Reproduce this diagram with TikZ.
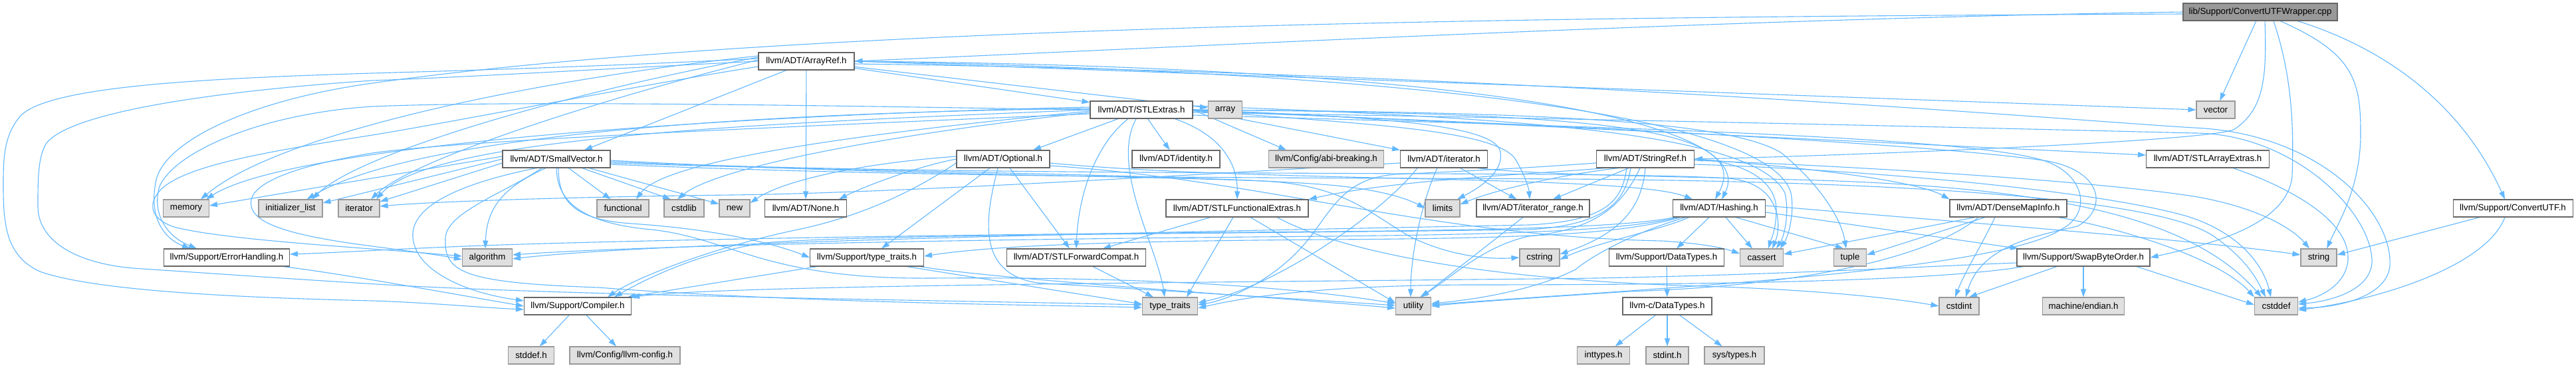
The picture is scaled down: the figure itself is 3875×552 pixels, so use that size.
\documentclass[tikz,border=0pt]{standalone}
\usepackage{fontspec}
\newfontfamily\dfont{Liberation Sans}
\usetikzlibrary{arrows.meta}
\definecolor{edgec}{HTML}{63B8FF}
\definecolor{bdark}{HTML}{666666}
\definecolor{blight}{HTML}{999999}
\definecolor{fext}{HTML}{E0E0E0}
\definecolor{froot}{HTML}{999999}
\pgfdeclarelayer{bg}
\pgfsetlayers{bg,main}
\tikzset{
  box/.style={draw=bdark, fill=white, line width=1.1pt, inner sep=0pt, minimum height=26pt, font=\dfont\fontsize{13.3}{15}\selectfont, text=black},
  ext/.style={box, draw=blight, fill=fext},
  root/.style={box, draw=bdark, fill=froot},
  e/.style={draw=edgec, line width=1.1pt, -{Triangle[length=12pt,width=8pt]}},
}
\begin{document}
\begin{tikzpicture}[x=1pt,y=-1pt]
\useasboundingbox (0,0) rectangle (3875,552);
% nodes
\node[root, minimum width=232pt] (cpp) at (3400,18) {lib/Support/ConvertUTFWrapper.cpp};
\node[box, minimum width=144pt] (arrayref) at (1213,92) {llvm/ADT/ArrayRef.h};
\node[box, minimum width=154pt] (stlextras) at (1717,165) {llvm/ADT/STLExtras.h};
\node[ext, minimum width=51pt] (array) at (1843,165) {array};
\node[ext, minimum width=58pt] (vector) at (3333,165) {vector};
\node[box, minimum width=162pt] (smallvec) at (837,239) {llvm/ADT/SmallVector.h};
\node[box, minimum width=140pt] (optional) at (1509,239) {llvm/ADT/Optional.h};
\node[box, minimum width=132pt] (identity) at (1769,239) {llvm/ADT/identity.h};
\node[ext, minimum width=173pt] (abi) at (1995,239) {llvm/Config/abi-breaking.h};
\node[box, minimum width=131pt] (iterh) at (2172,239) {llvm/ADT/iterator.h};
\node[box, minimum width=147pt] (stringref) at (2475,239) {llvm/ADT/StringRef.h};
\node[box, minimum width=185pt] (stlarr) at (3321,239) {llvm/ADT/STLArrayExtras.h};
\node[ext, minimum width=69pt] (memory) at (280,313) {memory};
\node[ext, minimum width=96pt] (initlist) at (437,313) {initializer\_list};
\node[ext, minimum width=62pt] (iterator) at (540,313) {iterator};
\node[ext, minimum width=78pt] (functional) at (937,313) {functional};
\node[ext, minimum width=60pt] (cstdlib) at (1029,313) {cstdlib};
\node[ext, minimum width=46pt] (new) at (1105,313) {new};
\node[box, minimum width=123pt] (none) at (1212,313) {llvm/ADT/None.h};
\node[box, minimum width=214pt] (stlfunc) at (1861,313) {llvm/ADT/STLFunctionalExtras.h};
\node[ext, minimum width=52pt] (limits) at (2170,313) {limits};
\node[box, minimum width=170pt] (iterrange) at (2306,313) {llvm/ADT/iterator\_range.h};
\node[box, minimum width=139pt] (hashing) at (2586,313) {llvm/ADT/Hashing.h};
\node[box, minimum width=176pt] (densemap) at (3021,313) {llvm/ADT/DenseMapInfo.h};
\node[box, minimum width=180pt] (cutf) at (3780,313) {llvm/Support/ConvertUTF.h};
\node[box, minimum width=189pt] (errh) at (341,387) {llvm/Support/ErrorHandling.h};
\node[ext, minimum width=75pt] (algorithm) at (733,387) {algorithm};
\node[box, minimum width=171pt] (typetraitsh) at (1304,387) {llvm/Support/type\_traits.h};
\node[box, minimum width=209pt] (stlfwd) at (1619,387) {llvm/ADT/STLForwardCompat.h};
\node[ext, minimum width=60pt] (cstring) at (2316,387) {cstring};
\node[box, minimum width=173pt] (datatypes) at (2507,387) {llvm/Support/DataTypes.h};
\node[ext, minimum width=65pt] (cassert) at (2650,387) {cassert};
\node[ext, minimum width=49pt] (tuple) at (2783,387) {tuple};
\node[box, minimum width=200pt] (swap) at (3134,387) {llvm/Support/SwapByteOrder.h};
\node[ext, minimum width=54pt] (string) at (3488,387) {string};
\node[box, minimum width=161pt] (compiler) at (869,460) {llvm/Support/Compiler.h};
\node[ext, minimum width=83pt] (stdtt) at (1760,460) {type\_traits};
\node[ext, minimum width=53pt] (utility) at (2126,460) {utility};
\node[box, minimum width=134pt] (cdatatypes) at (2508,460) {llvm-c/DataTypes.h};
\node[ext, minimum width=60pt] (cstdint) at (2947,460) {cstdint};
\node[ext, minimum width=123pt] (endian) at (3134,460) {machine/endian.h};
\node[ext, minimum width=65pt] (cstddef) at (3424,460) {cstddef};
\node[ext, minimum width=69pt] (stddef) at (799,534) {stddef.h};
\node[ext, minimum width=166pt] (llvmconfig) at (940,534) {llvm/Config/llvm-config.h};
\node[ext, minimum width=79pt] (inttypes) at (2412,534) {inttypes.h};
\node[ext, minimum width=64pt] (stdint) at (2508,534) {stdint.h};
\node[ext, minimum width=90pt] (systypes) at (2609,534) {sys/types.h};

\begin{pgfonlayer}{bg}
\fill[white] (0,0) rectangle (3875,552);
% cpp
\draw[e] (cpp.west) .. controls (2600,28) and (1800,70) .. (arrayref.east);
\draw[e] ([yshift=-3pt]cpp.west) .. controls (2400,25) and (1200,35) .. (560,125) .. controls (380,150) and (250,210) .. (235,270) .. controls (222,330) and (250,360) .. ([xshift=-55pt]errh.north);
\draw[e] (cpp) -- (vector);
\draw[e] ([xshift=7pt]cpp.south) .. controls (3410,120) and (3405,165) .. (3360,195) .. controls (3300,215) and (2700,236) .. (stringref.east);
\draw[e] ([xshift=20pt]cpp.south) .. controls (3450,120) and (3450,200) .. (3448,265) .. controls (3440,340) and (3320,368) .. (swap.east);
\draw[e] ([xshift=30pt]cpp.south) .. controls (3540,80) and (3551,120) .. (3551,200) .. controls (3551,280) and (3520,330) .. ([xshift=12pt]string.north);
\draw[e] ([xshift=56pt]cpp.south) .. controls (3580,70) and (3700,150) .. ([xshift=-12pt]cutf.north);
% arrayref
\draw[e] (arrayref.east) .. controls (2200,100) and (2650,180) .. ([xshift=4pt]hashing.north);
\draw[e] (arrayref) -- (none);
\draw[e] ([xshift=-30pt]arrayref.south) -- ([xshift=42pt]smallvec.north);
\draw[e] (arrayref) -- (stlextras);
\draw[e] ([yshift=4pt]arrayref.west) .. controls (900,100) and (700,106) .. (560,110) .. controls (300,118) and (70,130) .. (30,175) .. controls (5,205) and (5,240) .. (5,280) .. controls (5,340) and (10,385) .. (60,408) .. controls (150,440) and (400,448) .. (560,452) .. controls (650,455) and (720,462) .. ([yshift=-5pt]compiler.west);
\draw[e] (arrayref.west) .. controls (900,104) and (700,116) .. (560,121) .. controls (350,135) and (110,165) .. (70,215) .. controls (57,235) and (57,270) .. (57,310) .. controls (57,360) and (110,395) .. (200,403) .. controls (320,411) and (480,422) .. (600,429) .. controls (900,445) and (1450,452) .. ([yshift=2pt]stdtt.west);
\draw[e] ([yshift=-8pt]arrayref.west) .. controls (950,130) and (700,180) .. (560,203) .. controls (400,228) and (285,248) .. (245,282) .. controls (220,305) and (225,330) .. (265,342) .. controls (350,362) and (550,372) .. ([yshift=2pt]algorithm.west);
\draw[e] (arrayref) -- (array);
\draw[e] (arrayref.east) .. controls (2100,108) and (2660,170) .. (2694,290) .. controls (2700,320) and (2690,355) .. ([xshift=28pt]cassert.north);
\draw[e] ([yshift=-4pt]arrayref.east) .. controls (2300,110) and (3100,180) .. (3300,192) .. controls (3490,200) and (3600,320) .. (3595,400) .. controls (3590,445) and (3520,462) .. ([yshift=-3pt]cstddef.east);
\draw[e] ([yshift=6pt]arrayref.west) .. controls (850,140) and (540,230) .. ([xshift=-16pt]initlist.north east);
\draw[e] ([yshift=2pt]arrayref.west) .. controls (900,150) and (620,240) .. ([xshift=18pt]iterator.north);
\draw[e] ([yshift=8pt]arrayref.west) .. controls (800,120) and (420,200) .. ([xshift=22pt]memory.north);
\draw[e] (arrayref.east) -- (vector.west);
% stlextras
\draw[e] (stlextras.east) .. controls (2400,170) and (2640,190) .. ([xshift=-6pt]hashing.north);
\draw[e] ([xshift=-35pt]stlextras.south) -- ([xshift=45pt]optional.north);
\draw[e] ([xshift=-20pt]stlextras.south) .. controls (1650,215) and (1622,290) .. (stlfwd.north);
\draw[e] ([xshift=50pt]stlextras.south) .. controls (1830,200) and (1862,240) .. (stlfunc.north);
\draw[e] (stlextras) -- (identity);
\draw[e] (stlextras.east) -- (iterh.north west);
\draw[e] (stlextras.east) .. controls (2000,185) and (2250,190) .. (2280,240) .. controls (2295,265) and (2300,285) .. ([xshift=-5pt]iterrange.north);
\draw[e] (stlextras.east) -- ([xshift=-60pt]abi.north);
\draw[e] (stlextras.west) .. controls (1300,160) and (800,150) .. (560,160) .. controls (400,170) and (265,225) .. (240,280) .. controls (228,320) and (250,355) .. ([xshift=-45pt]errh.north);
\draw[e] ([yshift=-6pt]stlextras.west) .. controls (1200,190) and (700,210) .. (560,230) .. controls (470,245) and (385,268) .. (378,300) .. controls (372,332) and (420,352) .. (560,370) .. controls (620,378) and (660,383) .. ([yshift=-3pt]algorithm.west);
\draw[e] (stlextras.east) -- ([yshift=6pt]stlarr.west);
\draw[e] ([yshift=6pt]stlextras.east) .. controls (2300,178) and (2640,200) .. (2685,290) .. controls (2692,320) and (2684,355) .. ([xshift=22pt]cassert.north);
\draw[e] ([yshift=-4pt]stlextras.east) .. controls (2400,178) and (3100,195) .. (3300,200) .. controls (3450,200) and (3570,320) .. (3568,395) .. controls (3565,435) and (3510,452) .. ([yshift=3pt]cstddef.east);
\draw[e] ([yshift=-2pt]stlextras.east) .. controls (2300,185) and (2900,215) .. (3080,242) .. controls (3165,258) and (3170,315) .. (3125,340) .. controls (3060,355) and (2980,370) .. ([xshift=10pt]cstdint.north);
\draw[e] ([yshift=-4pt]stlextras.west) .. controls (1350,200) and (1080,250) .. ([xshift=-10pt]cstdlib.north);
\draw[e] ([yshift=-2pt]stlextras.west) .. controls (1300,200) and (1000,240) .. ([xshift=20pt]functional.north);
\draw[e] ([yshift=2pt]stlextras.west) .. controls (1100,170) and (620,205) .. ([xshift=-24pt]initlist.north east);
\draw[e] (stlextras.west) .. controls (1150,185) and (650,205) .. ([xshift=26pt]iterator.north);
\draw[e] (stlextras.east) .. controls (2050,175) and (2240,185) .. (2256,225) .. controls (2265,255) and (2230,280) .. ([xshift=22pt]limits.north);
\draw[e] ([yshift=4pt]stlextras.west) .. controls (1200,170) and (450,210) .. ([xshift=30pt]memory.north);
\draw[e] (stlextras.east) .. controls (2300,168) and (2600,180) .. (2680,230) .. controls (2740,280) and (2770,330) .. ([xshift=-6pt]tuple.north);
\draw[e] ([xshift=-8pt]stlextras.south) .. controls (1670,250) and (1740,370) .. ([xshift=-8pt]stdtt.north);
\draw[e] ([yshift=-8pt]stlextras.east) .. controls (2400,190) and (2950,205) .. (3070,240) .. controls (3135,258) and (3150,320) .. (3100,345) .. controls (3000,410) and (2450,435) .. ([yshift=2pt]utility.east);
% smallvec
\draw[e] ([xshift=-30pt]smallvec.south) .. controls (720,270) and (625,300) .. (621,350) .. controls (618,405) and (700,440) .. ([yshift=8pt]compiler.west);
\draw[e] ([xshift=3pt]smallvec.south) .. controls (840,300) and (860,330) .. (950,336) .. controls (1100,346) and (1180,372) .. (typetraitsh.west);
\draw[e] ([xshift=-16pt]smallvec.south) .. controls (760,280) and (732,310) .. ([xshift=-3pt]algorithm.north);
\draw[e] ([yshift=-4pt]smallvec.east) .. controls (1500,268) and (2400,255) .. (2600,268) .. controls (2680,275) and (2680,340) .. ([xshift=16pt]cassert.north);
\draw[e] ([yshift=-8pt]smallvec.east) .. controls (1500,272) and (2200,266) .. (2450,270) .. controls (2900,276) and (3250,300) .. (3330,355) .. controls (3380,390) and (3395,420) .. ([xshift=-16pt]cstddef.north);
\draw[e] (smallvec) -- ([xshift=-20pt]cstdlib.north);
\draw[e] ([yshift=-2pt]smallvec.east) .. controls (1300,262) and (1700,264) .. (1900,272) .. controls (2020,278) and (2060,320) .. (2120,355) .. controls (2180,385) and (2240,390) .. (cstring.west);
\draw[e] (smallvec) -- (functional);
\draw[e] (smallvec.west) -- ([yshift=8pt]initlist.east);
\draw[e] ([yshift=-6pt]smallvec.west) -- ([yshift=10pt]iterator.east);
\draw[e] ([yshift=-6pt]smallvec.east) .. controls (1300,258) and (1800,262) .. (2000,278) .. controls (2080,285) and (2120,300) .. (limits.west);
\draw[e] ([yshift=4pt]smallvec.west) -- ([yshift=4pt]memory.east);
\draw[e] (smallvec) -- (new);
\draw[e] ([xshift=-22pt]smallvec.south) .. controls (760,290) and (668,320) .. (670,360) .. controls (668,410) and (700,425) .. (900,432) .. controls (1200,455) and (1550,458) .. ([yshift=-2pt]stdtt.west);
\draw[e] (smallvec.south) .. controls (838,300) and (870,335) .. (980,345) .. controls (1100,358) and (1150,420) .. (1400,418) .. controls (1800,415) and (2000,440) .. ([yshift=4pt]utility.west);
% optional
\draw[e] ([yshift=-6pt]optional.east) .. controls (1900,275) and (2450,262) .. ([xshift=-40pt]hashing.north);
\draw[e] (optional.west) .. controls (1380,250) and (1300,280) .. ([xshift=50pt]none.north);
\draw[e] (optional) -- (stlfwd);
\draw[e] ([yshift=-6pt]optional.west) .. controls (1400,270) and (1320,320) .. (1200,345) .. controls (1080,370) and (960,415) .. ([xshift=45pt]compiler.north);
\draw[e] ([xshift=-20pt]optional.south) -- ([xshift=22pt]typetraitsh.north);
\draw[e] ([yshift=-10pt]optional.east) .. controls (1900,270) and (2150,355) .. (2500,362) .. controls (2560,366) and (2590,372) .. ([yshift=6pt]cassert.west);
\draw[e] ([yshift=4pt]optional.west) .. controls (1300,245) and (1180,270) .. ([yshift=8pt]new.east);
\draw[e] ([xshift=-8pt]optional.south) .. controls (1484,320) and (1465,410) .. (1560,425) .. controls (1800,440) and (2000,452) .. ([yshift=1pt]utility.west);
% iterh
\draw[e] (iterh) -- (iterrange);
\draw[e] ([xshift=50pt]iterh.south) .. controls (2300,262) and (2500,265) .. (2700,270) .. controls (3100,280) and (3300,330) .. ([xshift=-22pt]cstddef.north);
\draw[e] ([yshift=-6pt]iterh.west) .. controls (1800,262) and (1350,290) .. (1100,293) .. controls (850,296) and (650,303) .. ([yshift=3pt]iterator.east);
\draw[e] ([xshift=-40pt]iterh.south) .. controls (2080,320) and (1920,430) .. ([yshift=5pt]stdtt.east);
\draw[e] ([xshift=-10pt]iterh.south) .. controls (2140,300) and (2122,380) .. ([xshift=-4pt]utility.north);
% stringref
\draw[e] (stringref.east) .. controls (2700,250) and (2880,270) .. (densemap.north west);
\draw[e] ([xshift=-60pt]stringref.south) .. controls (2300,262) and (2100,270) .. (stlfunc.north east);
\draw[e] ([xshift=-25pt]stringref.south) -- ([xshift=30pt]iterrange.north);
\draw[e] ([xshift=-22pt]stringref.south) .. controls (2445,300) and (2420,338) .. (2300,345) .. controls (1800,352) and (1300,352) .. (1150,365) .. controls (1050,380) and (970,420) .. ([xshift=55pt]compiler.north);
\draw[e] ([xshift=-28pt]stringref.south) .. controls (2440,300) and (2420,332) .. (2300,338) .. controls (1800,348) and (1000,362) .. ([yshift=-2pt]algorithm.east);
\draw[e] (stringref.east) .. controls (2620,242) and (2672,270) .. (2672,315) .. controls (2672,345) and (2664,360) .. ([xshift=10pt]cassert.north);
\draw[e] ([yshift=-8pt]stringref.east) .. controls (2800,255) and (3150,285) .. (3290,325) .. controls (3370,350) and (3405,400) .. ([xshift=-8pt]cstddef.north);
\draw[e] (stringref.south) .. controls (2470,310) and (2440,350) .. ([yshift=5pt]cstring.east);
\draw[e] ([xshift=-40pt]stringref.south) .. controls (2350,262) and (2250,285) .. ([yshift=6pt]limits.east);
\draw[e] ([yshift=-2pt]stringref.east) .. controls (2800,250) and (3150,272) .. (3300,295) .. controls (3400,312) and (3450,345) .. ([xshift=-14pt]string.north);
\draw[e] ([yshift=-6pt]stringref.west) .. controls (2300,252) and (2250,255) .. (2100,262) .. controls (2010,268) and (2000,330) .. (1950,380) .. controls (1900,430) and (1840,452) .. ([yshift=2pt]stdtt.east);
\draw[e] ([xshift=-8pt]stringref.south) .. controls (2440,310) and (2400,345) .. (2300,355) .. controls (2230,370) and (2180,420) .. ([xshift=10pt]utility.north);
% stlarr
\draw[e] ([xshift=38pt]stlarr.south) .. controls (3440,280) and (3535,330) .. (3532,390) .. controls (3530,425) and (3495,445) .. ([yshift=6pt]cstddef.east);
% stlfunc
\draw[e] ([xshift=-40pt]stlfunc.south) -- ([xshift=40pt]stlfwd.north);
\draw[e] ([xshift=60pt]stlfunc.south) .. controls (2000,370) and (2200,420) .. (2560,430) .. controls (2750,436) and (2860,450) .. (cstdint.west);
\draw[e] ([xshift=-6pt]stlfunc.south) -- ([xshift=25pt]stdtt.north);
\draw[e] ([xshift=20pt]stlfunc.south) -- ([yshift=5pt]utility.west);
% iterrange
\draw[e] ([xshift=-15pt]iterrange.south) -- ([xshift=12pt]utility.north);
% hashing
\draw[e] ([xshift=-15pt]hashing.south) -- ([xshift=15pt]datatypes.north);
\draw[e] ([xshift=-66pt]hashing.south) .. controls (2450,340) and (2300,345) .. (2000,348) .. controls (1400,352) and (900,362) .. (700,370) .. controls (600,374) and (500,380) .. ([yshift=5pt]errh.east);
\draw[e] ([xshift=-62pt]hashing.south) .. controls (2450,345) and (2300,352) .. (2000,355) .. controls (1400,360) and (950,370) .. ([yshift=4pt]algorithm.east);
\draw[e] ([xshift=-58pt]hashing.south) .. controls (2440,352) and (2300,358) .. (2000,360) .. controls (1700,362) and (1500,368) .. ([yshift=2pt]typetraitsh.east);
\draw[e] ([xshift=10pt]hashing.south) -- ([xshift=-14pt]cassert.north);
\draw[e] ([xshift=-45pt]hashing.south) .. controls (2500,345) and (2400,365) .. ([yshift=-3pt]cstring.east);
\draw[e] ([yshift=-6pt]hashing.east) -- ([xshift=-98pt]swap.north);
\draw[e] ([yshift=4pt]hashing.east) .. controls (2900,330) and (3300,360) .. ([yshift=4pt]string.west);
\draw[e] ([xshift=25pt]hashing.south) -- ([xshift=-10pt]tuple.north);
\draw[e] ([xshift=-50pt]hashing.south) .. controls (2470,345) and (2400,380) .. (2370,405) .. controls (2300,440) and (2200,452) .. ([yshift=4pt]utility.east);
% densemap
\draw[e] ([xshift=-50pt]densemap.south) -- ([yshift=5pt]cassert.east);
\draw[e] ([xshift=75pt]densemap.south) .. controls (3200,345) and (3340,390) .. (cstddef.north west);
\draw[e] ([xshift=-20pt]densemap.south) .. controls (2980,370) and (2955,410) .. ([xshift=-6pt]cstdint.north);
\draw[e] ([xshift=-35pt]densemap.south) -- ([yshift=4pt]tuple.east);
\draw[e] ([xshift=-45pt]densemap.south) .. controls (2900,390) and (2700,430) .. (2450,438) .. controls (2300,448) and (2200,455) .. (utility.east);
% cutf
\draw[e] ([xshift=-50pt]cutf.south) -- ([yshift=4pt]string.east);
\draw[e] ([xshift=-12pt]cutf.south) .. controls (3740,400) and (3580,450) .. ([yshift=-6pt]cstddef.east);
% errh
\draw[e] ([xshift=85pt]errh.south) .. controls (520,412) and (700,445) .. (compiler.west);
% typetraitsh
\draw[e] ([xshift=-75pt]typetraitsh.south) -- ([xshift=75pt]compiler.north);
\draw[e] ([xshift=60pt]typetraitsh.south) -- ([yshift=3pt]stdtt.west);
\draw[e] ([xshift=80pt]typetraitsh.south) .. controls (1500,420) and (1900,445) .. ([yshift=-3pt]utility.west);
% stlfwd
\draw[e] ([xshift=25pt]stlfwd.south) -- ([xshift=-25pt]stdtt.north);
% datatypes
\draw[e] (datatypes) -- (cdatatypes);
% swap
\draw[e] ([yshift=-8pt]swap.west) .. controls (2900,400) and (2700,412) .. (2400,418) .. controls (1800,425) and (1100,428) .. (compiler.north east);
\draw[e] ([xshift=80pt]swap.south) -- ([yshift=2pt]cstddef.west);
\draw[e] ([xshift=-40pt]swap.south) -- ([xshift=15pt]cstdint.north);
\draw[e] ([xshift=-90pt]swap.south) .. controls (2900,425) and (2500,428) .. (2200,428) .. controls (1950,430) and (1850,452) .. ([yshift=-3pt]stdtt.east);
\draw[e] (swap) -- (endian);
% compiler
\draw[e] (compiler) -- (stddef);
\draw[e] (compiler) -- (llvmconfig);
% cdatatypes
\draw[e] (cdatatypes) -- (inttypes);
\draw[e] (cdatatypes) -- (stdint);
\draw[e] (cdatatypes) -- (systypes);
\end{pgfonlayer}
\end{tikzpicture}
\end{document}
